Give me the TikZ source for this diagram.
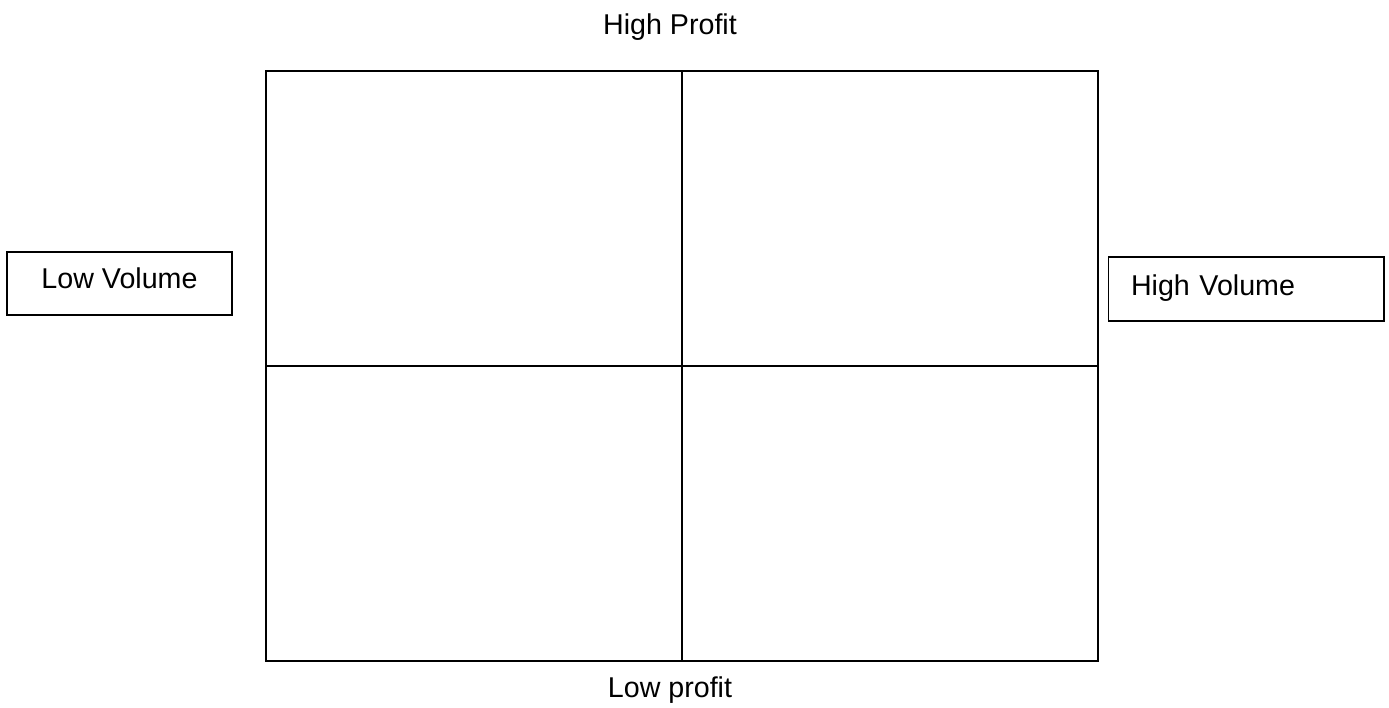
\documentclass[tikz,border=0pt]{standalone}
\usepackage{fontspec}
\setmainfont{Liberation Sans}

\tikzset{
    vbox/.style={draw, line width=.6pt, inner sep=0pt, text height=.4cm}
}

\begin{document}
\begin{tikzpicture}[x=.02cm, y=-.02cm, font=\fontsize{16.3}{19}\selectfont]

        \useasboundingbox (0,0) rectangle (1389,707);

        %MATRIX (2 BY 2)
        \node[draw, line width=.04cm, inner sep=0pt, minimum width=16.64cm, minimum height=11.8cm] (grid) at (682,366) {};
        \draw[line width=.04cm] (grid.north) -- (grid.south);
        \draw[line width=.04cm] (grid.west) -- (grid.east);

        %PROFIT LABELS
        \node[anchor=base] (hiprofit) at (670,34)  {High Profit};
        \node[anchor=base] (loprofit) at (670,697) {Low profit};

        %VOLUME BOXES
        \node[vbox, minimum width=4.5cm, minimum height=1.26cm, text depth=.22cm] (lovol) at (119.5,283.5) {Low Volume};
        \node[vbox, text width=4.6cm, align=left, inner xsep=.46cm, minimum height=1.28cm, text depth=.16cm] (hivol) at (1246,289) {High Volume};

    \end{tikzpicture}
\end{document}
